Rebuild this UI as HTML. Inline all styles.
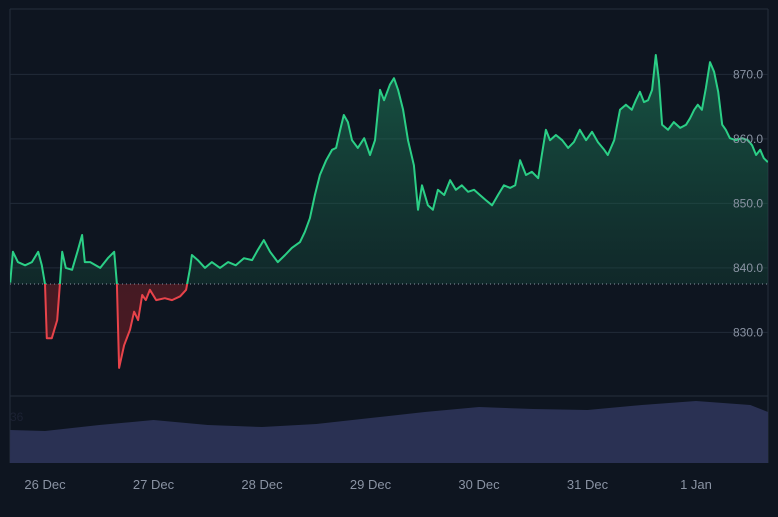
<!DOCTYPE html>
<html><head><meta charset="utf-8"><style>
html,body{margin:0;padding:0;background:#0e1520;}
svg{display:block;font-family:"Liberation Sans",sans-serif;}
</style></head><body>
<svg id="chart" width="778" height="517" viewBox="0 0 778 517" xmlns="http://www.w3.org/2000/svg">
<defs>
<linearGradient id="gUp" x1="0" y1="0" x2="0" y2="1"><stop offset="0" stop-color="#1f8a62" stop-opacity="0.55"/><stop offset="1" stop-color="#123a30" stop-opacity="0.25"/></linearGradient>
<linearGradient id="gDn" x1="0" y1="0" x2="0" y2="1"><stop offset="0" stop-color="#5a1c24" stop-opacity="0.5"/><stop offset="1" stop-color="#5a1c24" stop-opacity="0.8"/></linearGradient>
<clipPath id="above"><rect x="10" y="0" width="758" height="284"/></clipPath>
<clipPath id="below"><rect x="10" y="284" width="758" height="120"/></clipPath>
</defs>
<rect x="0" y="0" width="778" height="517" fill="#0e1520"/>
<g id="grid"></g>
<g id="vol"></g>
<g id="price"></g>
<g id="axes"></g>
</svg>
<script>
const times=[-7.7,-7.1,-6.0,-4.4,-2.9,-1.5,-0.7,0,0.4,1.5,2.7,3.3,3.8,4.6,6.0,7.3,8.2,8.8,10.0,12.2,13.9,15.3,15.9,16.4,17.5,18.8,19.7,20.6,21.5,22.3,23.2,24.6,26.5,28.1,29.9,31.2,32.1,32.5,33.8,35.4,36.9,38.7,40.5,42.2,44.0,45.8,47.1,48.4,49.8,51.5,53.1,54.6,56.4,57.5,58.6,59.7,60.8,62.2,63.5,64.4,65.3,66.1,67.0,67.9,69.2,70.6,71.9,73.0,74.1,75.0,76.3,77.2,78.1,79.2,80.3,81.6,82.5,83.4,84.7,85.8,86.9,88.3,89.6,90.9,92.2,93.6,94.9,96.2,97.5,98.9,100.2,101.5,102.9,104.0,105.1,106.4,107.7,109.1,109.9,110.8,111.7,113.0,114.4,115.7,117.0,118.3,119.7,121.0,122.3,123.7,124.5,125.9,127.2,128.5,129.8,130.7,131.6,132.5,133.4,134.3,135.1,135.8,136.5,137.8,139.1,140.5,141.8,142.7,143.6,144.4,145.3,146.2,147.1,148.0,148.9,149.8,150.6,151.5,152.8,154.2,155.5,156.4,157.3,158.2,159.0,159.9];
const prices=[837.7,842.5,840.9,840.4,840.9,842.5,840.4,837.5,829.1,829.1,831.9,837.5,842.5,840.0,839.7,842.8,845.1,840.9,840.9,840.0,841.5,842.5,837.5,824.5,828.0,830.4,833.2,831.9,835.8,835.0,836.6,835.0,835.3,835.0,835.6,836.6,840.0,842.0,841.2,840.0,840.9,840.0,840.9,840.4,841.5,841.2,842.8,844.3,842.5,840.9,842.0,843.1,844.0,845.6,847.7,851.3,854.4,856.7,858.3,858.6,861.4,863.7,862.6,859.8,858.6,860.1,857.5,859.8,867.6,866.0,868.4,869.4,867.6,864.5,859.8,855.9,849.0,852.8,849.7,849.0,852.1,851.3,853.6,852.1,852.8,851.8,852.1,851.3,850.5,849.7,851.3,852.8,852.4,852.8,856.7,854.4,854.9,853.9,857.5,861.4,859.8,860.6,859.8,858.6,859.5,861.4,859.8,861.1,859.5,858.3,857.5,859.8,864.5,865.3,864.5,866.0,867.3,865.7,866.0,867.6,873.0,869.1,862.2,861.4,862.6,861.7,862.2,863.2,864.5,865.3,864.5,867.9,871.9,870.4,867.3,862.2,861.4,860.1,859.8,860.1,859.8,859.0,857.5,858.3,857.0,856.4];
const baseValue=837.5;
const volTimes=[-7.7,0,12,24,36,48,60,72,84,96,108,120,132,144,156,160];
const volValues=[33,32,38,43,38,36,39,45,51,56,54,53,58,62,58,51];
const priceTicks=[830,840,850,860,870];
const dateLabels=["26 Dec","27 Dec","28 Dec","29 Dec","30 Dec","31 Dec","1 Jan"];

const NS="http://www.w3.org/2000/svg";
const xS=h=>45+h/24*108.5;
const yS=v=>284-(v-baseValue)*6.45;
const yV=v=>463-v;
function mk(tag,attrs,parent){const e=document.createElementNS(NS,tag);for(const k in attrs)e.setAttribute(k,attrs[k]);parent.appendChild(e);return e;}
const grid=document.getElementById('grid'),vol=document.getElementById('vol'),pr=document.getElementById('price'),ax=document.getElementById('axes');

// frame
let fr=mk('path',{d:'M10 9 H768 M10 9 V463 M768 9 V463 M10 396 H768',stroke:'#252e3c','stroke-width':1,fill:'none'},grid);


priceTicks.forEach(t=>{
  const y=yS(t);
  const l=mk('line',{x1:10,x2:768,y1:y,y2:y,stroke:'#222b38','stroke-width':1},grid);
  
  
  const tx=mk('text',{x:763,y:y+4,'text-anchor':'end',fill:'#8a93a3','font-size':12},ax);
  tx.textContent=t.toFixed(1);
  
  
});
dateLabels.forEach((d,i)=>{
  const tx=mk('text',{x:xS(i*24),y:489,'text-anchor':'middle',fill:'#8a93a3','font-size':13},ax);
  tx.textContent=d;
  
  
});

// volume
let vd='M10 463';
volTimes.forEach((t,i)=>{const x=Math.max(10,Math.min(768,xS(t)));vd+=' L'+x.toFixed(1)+' '+yV(volValues[i]).toFixed(1);});
vd+=' L768 '+yV(volValues[volValues.length-1])+' L768 463 Z';
const va=mk('path',{d:vd,fill:'#2a3153'},vol);


const vl=mk('text',{x:10,y:421,fill:'#1c2233','font-size':12},vol);
vl.textContent='36';



// price
const pts=times.map((t,i)=>[xS(t),yS(prices[i])]);
const line='M'+pts.map(p=>p[0].toFixed(1)+' '+p[1].toFixed(1)).join(' L');
const by=yS(baseValue);
const area=line+' L'+pts[pts.length-1][0].toFixed(1)+' '+by+' L'+pts[0][0].toFixed(1)+' '+by+' Z';
const au=mk('path',{d:area,fill:'url(#gUp)','clip-path':'url(#above)'},pr);


const ad=mk('path',{d:area,fill:'url(#gDn)','clip-path':'url(#below)'},pr);


const bl=mk('line',{x1:10,x2:768,y1:by,y2:by,stroke:'#8a93a3','stroke-width':1,'stroke-dasharray':'1 3'},pr);


const lu=mk('path',{d:line,fill:'none',stroke:'#2bcf86','stroke-width':2,'stroke-linejoin':'round','clip-path':'url(#above)'},pr);


const ld=mk('path',{d:line,fill:'none',stroke:'#e8434a','stroke-width':2,'stroke-linejoin':'round','clip-path':'url(#below)'},pr);


</script>
</body></html>
